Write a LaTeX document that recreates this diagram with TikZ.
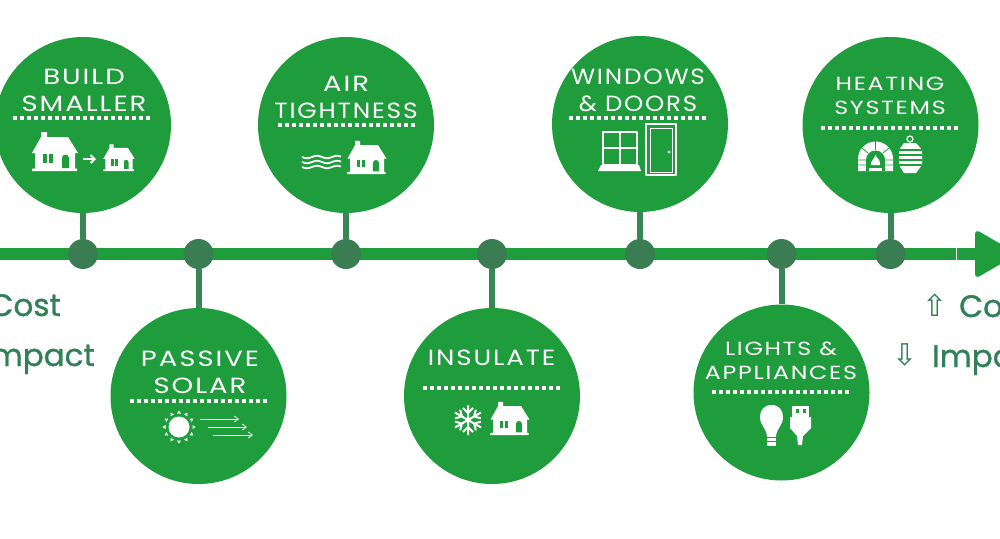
\documentclass[tikz,border=0pt]{standalone}
\usepackage{fontspec}
\usepackage{xcolor}
\usepackage{tikz}
\usetikzlibrary{arrows.meta}
\setmainfont{Poppins}
\newfontfamily\titlefont[LetterSpace=9,FakeStretch=1.25]{Poppins}
\newfontfamily\sidefont[FakeBold=1]{Poppins}
\newfontfamily\symbolfont{DejaVu Sans}
\newcommand{\narrowline}[2]{\scalebox{#1}[1]{#2}}
\definecolor{stopgreen}{RGB}{31,157,61}
\definecolor{dotgreen}{RGB}{58,125,83}
\definecolor{stemgreen}{RGB}{56,133,86}
\definecolor{sidegreen}{RGB}{50,128,88}
\tikzset{
  stopcircle/.style={circle,fill=stopgreen,minimum size=176pt,inner sep=0pt},
  stopdot/.style={circle,fill=dotgreen,minimum size=30pt,inner sep=0pt},
  stem/.style={draw=stemgreen,line width=6pt},
  axisline/.style={draw=stopgreen,line width=12pt},
  titletext/.style={text=white,align=center,inner sep=0pt,font=\titlefont\fontsize{22}{27}\selectfont},
  smalltitle/.style={text=white,align=center,inner sep=0pt,font=\titlefont\fontsize{19}{24}\selectfont},
  dotrule/.style={white,line width=3.5pt,dash pattern=on 3.5pt off 3.5pt},
  sidetext/.style={text=sidegreen,inner sep=0pt,font=\sidefont\fontsize{31}{31}\selectfont},
  sidearrow/.style={text=sidegreen,inner sep=0pt,font=\symbolfont\fontsize{30}{30}\selectfont},
  house/.pic={
    \fill[white] (-23,0) -- (-23,-2.5) -- (-20,-2.5) -- (-20,-18) -- (-23,-18) -- (-14,-34)
      -- (-14,-39) -- (-8,-39) -- (-8,-34) -- (13,-34) -- (23,-18) -- (20,-18) -- (20,-2.5)
      -- (22,-2.5) -- (22,0) -- cycle;
    \fill[stopgreen] (-12,-17) rectangle (-8,-8);
    \fill[stopgreen] (-6,-17) rectangle (-2,-8);
    \fill[stopgreen] (7,-3) -- (7,-13) arc (180:360:3.5) -- (14,-3) -- cycle;
  }
}
\begin{document}
\begin{tikzpicture}[line cap=butt,line join=round,x=1pt,y=-1pt]
\useasboundingbox (0,0) rectangle (1000,538);
\clip (0,0) rectangle (1000,538);
\fill[white] (0,0) rectangle (1000,538);
\coordinate (axisstart) at (-5,254);
\coordinate (axisgap) at (955.5,254);
\coordinate (tailstart) at (957,254);
\coordinate (tailend) at (980,254);
\draw[axisline] (axisstart) -- (axisgap);
\draw[axisline] (tailstart) -- (tailend);
\fill[stopgreen,draw=stopgreen,line width=5pt,line join=round] (977.5,233.5) -- (1013,254) -- (977.5,274.5) -- cycle;
\node[stopdot] (builddot) at (83,254) {};
\node[stopdot] (solardot) at (198.5,254) {};
\node[stopdot] (airdot) at (346,254) {};
\node[stopdot] (insulatedot) at (492,254) {};
\node[stopdot] (windowsdot) at (640,254) {};
\node[stopdot] (lightsdot) at (781.5,254) {};
\node[stopdot] (heatingdot) at (890.5,254) {};
\node[stopcircle] (build) at (83,125) {};
\node[stopcircle] (solar) at (198.5,396) {};
\node[stopcircle] (air) at (346,125) {};
\node[stopcircle] (insulate) at (492,396) {};
\node[stopcircle] (windows) at (640,124) {};
\node[stopcircle] (lights) at (781.5,392.5) {};
\node[stopcircle] (heating) at (890.5,125) {};
\draw[stem] (build) -- (builddot);
\draw[stem] (solar) -- (solardot);
\draw[stem] (air) -- (airdot);
\draw[stem] (insulate) -- (insulatedot);
\draw[stem] (windows) -- (windowsdot);
\draw[stem] (lights) -- (lightsdot);
\draw[stem] (heating) -- (heatingdot);
\node[titletext] (buildtext) at (84,90) {BUILD\\SMALLER};
\node[titletext] (solartext) at (200,372.5) {PASSIVE\\SOLAR};
\node[titletext] (airtext) at (346,97) {AIR\\\narrowline{.905}{TIGHTNESS}};
\node[titletext] (insulatetext) at (491.5,358) {\narrowline{.95}{INSULATE}};
\node[titletext] (windowstext) at (638,90) {\narrowline{.9}{WINDOWS}\\\narrowline{.89}{\& DOORS}};
\node[smalltitle] (lightstext) at (781,361) {LIGHTS \&\\APPLIANCES};
\node[smalltitle] (heatingtext) at (890,96) {HEATING\\SYSTEMS};
\draw[dotrule] (13,118) -- (153,118);
\draw[dotrule] (130,401) -- (270,401);
\draw[dotrule] (278,125) -- (418,125);
\draw[dotrule] (423,388) -- (563,388);
\draw[dotrule] (569,118) -- (709,118);
\draw[dotrule] (712,392) -- (852,392);
\draw[dotrule] (821,128) -- (961,128);
\node[sidetext,anchor=base east] (costleft) at (61,316) {Cost};
\node[sidetext,anchor=base east] (impactleft) at (95,366) {Impact};
\node[sidetext,anchor=base west] (costright) at (959,317) {Cost};
\node[sidetext,anchor=base west] (impactright) at (932,367) {Impact};
\node[sidearrow] (uparrow) at (935,305) {⇧};
\node[sidearrow] (downarrow) at (905,355) {⇩};
\pic at (55,171) {house};
\pic[scale=.68] at (119,171) {house};
\draw[white,line width=2pt,-{Straight Barb[length=4pt,width=8pt]}] (83,159) -- (96,159);
\pic[scale=.85] at (367,174) {house};
\foreach \waveline in {157,162,167}
  \draw[white,line width=1.8pt] plot[domain=0:39,samples=40,smooth] ({302+\x},{\waveline+1.2*sin(\x*18)});
\pic[scale=.85] at (510,435) {house};
\foreach \flakeangle in {0,60,...,300} {
  \draw[white,line width=2pt,rotate around={\flakeangle:(468,420)}]
    (468,420) -- (468,405) (463,408) -- (468,413) -- (473,408);
}
\fill[white] (179,427) circle (10.5);
\foreach \rayangle in {0,30,...,330} {
  \fill[white,rotate around={\rayangle:(179,427)}] (177,413.5) -- (181,413.5) -- (179,410.5) -- cycle;
}
\draw[white,line width=.8pt,-{Straight Barb[length=4pt,width=6pt]}] (200,419) -- (239,419);
\draw[white,line width=.8pt,-{Straight Barb[length=4pt,width=6pt]}] (208,427) -- (247,427);
\draw[white,line width=.8pt,-{Straight Barb[length=4pt,width=6pt]}] (213,435) -- (253,435);
\draw[white,line width=1.5pt] (603,132) rectangle (637,165);
\draw[white,line width=1.5pt] (620,132) -- (620,165) (603,148) -- (637,148);
\fill[white] (601,165) -- (639,165) -- (641,171) -- (598,171) -- cycle;
\draw[white,line width=1.2pt] (646,124) rectangle (676,175);
\draw[white,line width=1pt] (650,128) rectangle (672,172);
\fill[white] (669,152) circle (1.5);
\fill[white] (767,446) rectangle (776,433);
\fill[white] (771.5,405) .. controls (764,405) and (760,410) .. (760,417) .. controls (760,425) and (766,428) .. (767,436) -- (776,436) .. controls (777,428) and (783,425) .. (783,417) .. controls (783,410) and (779,405) .. (771.5,405) -- cycle;
\fill[stopgreen] (766,437) rectangle (777,438);
\fill[stopgreen] (766,441) rectangle (777,442);
\fill[white] (792,406) rectangle (809,417);
\fill[stopgreen] (795.5,409) rectangle (798.5,413);
\fill[stopgreen] (802.5,409) rectangle (805.5,413);
\fill[white] (790,417) -- (811,417) -- (811,428) -- (803,436) -- (802,445) -- (798,445) -- (797,436) -- (790,428) -- cycle;
\fill[white] (858,171) -- (858,159) arc (180:360:17.5) -- (893,171) -- cycle;
\fill[stopgreen] (866,171) -- (866,160) arc (180:360:9.5) -- (885,171) -- cycle;
\draw[stopgreen,line width=.8pt] (858,160) -- (866,160) (885,160) -- (893,160) (858,165) -- (866,165) (885,165) -- (893,165)
  (862,148) -- (868,153) (889,148) -- (883,153) (875.5,141) -- (875.5,150);
\fill[white] (869,171) rectangle (882,168);
\fill[white] (875.5,155) .. controls (877,159) and (881,160) .. (880,165) -- (871,165) .. controls (870,161) and (874,160) .. (875.5,155) -- cycle;
\draw[white,line width=1.2pt] (910,139) circle (3);
\fill[white] (904,143) -- (916,143) -- (922,150) -- (922,165) -- (916,173) -- (904,173) -- (899,165) -- (899,150) -- cycle;
\foreach \tankline in {150,155,160,165}
  \draw[stopgreen,line width=1.2pt] (899,\tankline) -- (922,\tankline);
\end{tikzpicture}
\end{document}
